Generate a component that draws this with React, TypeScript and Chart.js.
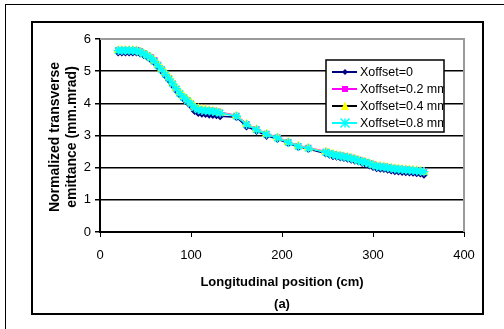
import React, { useEffect, useRef } from "react";
import { Chart, registerables } from "chart.js";

Chart.register(...registerables);

const xPositions = [20, 24, 28, 32, 36, 40, 44, 48, 52, 56, 60, 64, 68, 72, 76, 80, 84, 88, 92, 96, 100, 104, 108, 112, 116, 120, 124, 128, 132,
  150, 161, 172, 183, 195, 207, 218, 229,
  248, 252, 256, 260, 264, 268, 272, 276, 280, 284, 288, 292, 296, 300, 304, 308, 312, 316, 320, 324, 328, 332, 336, 340, 344, 348, 352, 356];

const xoffset0 = [5.58, 5.58, 5.58, 5.58, 5.58, 5.58, 5.55, 5.5, 5.44, 5.36, 5.26, 5.13, 5.0, 4.86, 4.72, 4.56, 4.4, 4.26, 4.14, 4.03, 3.92, 3.76, 3.7, 3.68, 3.67, 3.65, 3.64, 3.63, 3.6,
  3.57, 3.28, 3.14, 2.99, 2.89, 2.76, 2.64, 2.58,
  2.44, 2.4, 2.36, 2.34, 2.32, 2.3, 2.28, 2.25, 2.22, 2.19, 2.15, 2.11, 2.07, 2.02, 1.98, 1.97, 1.96, 1.94, 1.91, 1.89, 1.88, 1.87, 1.86, 1.85, 1.84, 1.83, 1.82, 1.78];

const xoffset02 = [5.66, 5.66, 5.66, 5.66, 5.66, 5.66, 5.62, 5.56, 5.5, 5.44, 5.34, 5.2, 5.06, 4.92, 4.78, 4.62, 4.46, 4.32, 4.2, 4.1, 4.0, 3.88, 3.82, 3.8, 3.79, 3.78, 3.77, 3.75, 3.72,
  3.62, 3.36, 3.2, 3.06, 2.94, 2.8, 2.68, 2.62,
  2.5, 2.46, 2.43, 2.4, 2.38, 2.36, 2.34, 2.31, 2.28, 2.25, 2.22, 2.18, 2.14, 2.1, 2.06, 2.05, 2.04, 2.02, 2.0, 1.98, 1.97, 1.96, 1.95, 1.94, 1.93, 1.92, 1.91, 1.89];

const xoffset04 = [5.65, 5.65, 5.65, 5.65, 5.65, 5.64, 5.6, 5.55, 5.5, 5.42, 5.32, 5.2, 5.07, 4.94, 4.8, 4.64, 4.48, 4.34, 4.22, 4.12, 4.02, 3.9, 3.84, 3.81, 3.8, 3.78, 3.76, 3.74, 3.71,
  3.61, 3.35, 3.19, 3.05, 2.93, 2.79, 2.67, 2.61,
  2.49, 2.45, 2.42, 2.39, 2.37, 2.35, 2.33, 2.3, 2.27, 2.23, 2.2, 2.17, 2.13, 2.09, 2.05, 2.04, 2.03, 2.01, 1.99, 1.97, 1.96, 1.95, 1.94, 1.93, 1.92, 1.91, 1.9, 1.86];

const xoffset08 = [5.64, 5.64, 5.64, 5.64, 5.64, 5.63, 5.6, 5.54, 5.48, 5.4, 5.3, 5.17, 5.04, 4.9, 4.76, 4.6, 4.45, 4.3, 4.18, 4.08, 3.98, 3.86, 3.8, 3.78, 3.77, 3.76, 3.75, 3.73, 3.7,
  3.6, 3.34, 3.18, 3.04, 2.92, 2.78, 2.66, 2.6,
  2.48, 2.44, 2.41, 2.38, 2.36, 2.34, 2.32, 2.29, 2.26, 2.22, 2.19, 2.16, 2.12, 2.08, 2.04, 2.03, 2.02, 2.0, 1.98, 1.96, 1.95, 1.94, 1.93, 1.92, 1.91, 1.9, 1.89, 1.87];

const seriesLabels = ["Xoffset=0", "Xoffset=0.2 mm", "Xoffset=0.4 mm", "Xoffset=0.8 mm"];
const xTickValues = [0, 100, 200, 300, 400];
const yTickValues = [0, 1, 2, 3, 4, 5, 6];
const yTitleLines = ["Normalized transverse", "emittance (mm.mrad)"];
const xTitleLines = ["Longitudinal position (cm)", "(a)"];

const FONT = "'Liberation Sans', Arial, sans-serif";

export default function App() {
  const ref = useRef<HTMLCanvasElement>(null);

  useEffect(() => {
    const canvas = ref.current;
    if (!canvas) return;
    const toPts = (ys: number[]) => xPositions.map((x, i) => ({ x, y: ys[i] }));

    const styles = [
      { line: "#000080", fill: "#000080", pt: "rectRot", r: 3, order: 3 },
      { line: "#FF00FF", fill: "#FF00FF", pt: "rect", r: 3, order: 2 },
      { line: "#FFFF00", fill: "#FFFF00", pt: "triangle", r: 4, order: 1 },
      { line: "#00FFFF", fill: "#00FFFF", pt: "star", r: 4.5, order: 0 },
    ];
    const allSeries = [xoffset0, xoffset02, xoffset04, xoffset08];

    function drawMarker(ctx: CanvasRenderingContext2D, pt: string, x: number, y: number, r: number, color: string) {
      ctx.save();
      ctx.fillStyle = color;
      ctx.strokeStyle = color;
      ctx.lineWidth = 1.5;
      ctx.beginPath();
      if (pt === "rectRot") {
        ctx.moveTo(x, y - r);
        ctx.lineTo(x + r, y);
        ctx.lineTo(x, y + r);
        ctx.lineTo(x - r, y);
        ctx.closePath();
        ctx.fill();
      } else if (pt === "rect") {
        ctx.fillRect(x - r, y - r, 2 * r, 2 * r);
      } else if (pt === "triangle") {
        ctx.moveTo(x, y - r * 1.2);
        ctx.lineTo(x + r, y + r);
        ctx.lineTo(x - r, y + r);
        ctx.closePath();
        ctx.fill();
      } else {
        ctx.moveTo(x - r, y - r); ctx.lineTo(x + r, y + r);
        ctx.moveTo(x - r, y + r); ctx.lineTo(x + r, y - r);
        ctx.moveTo(x, y - r); ctx.lineTo(x, y + r);
        ctx.stroke();
      }
      ctx.restore();
    }

    const decorPlugin = {
      id: "decor",
      beforeDraw(chart: any) {
        const ctx = chart.ctx;
        ctx.save();
        ctx.fillStyle = "#fff";
        ctx.fillRect(0, 0, chart.width, chart.height);
        ctx.strokeStyle = "#000";
        ctx.lineWidth = 1;
        ctx.strokeRect(5.5, 4.5, 600, 400);
        ctx.lineWidth = 2;
        ctx.strokeRect(32, 22, 451, 292);
        ctx.restore();
      },
      afterDraw(chart: any) {
        const ctx = chart.ctx;
        const a = chart.chartArea;
        ctx.save();
        ctx.strokeStyle = "#9a9a9a";
        ctx.lineWidth = 2;
        ctx.beginPath();
        ctx.moveTo(a.left, a.top);
        ctx.lineTo(a.right, a.top);
        ctx.lineTo(a.right, a.bottom);
        ctx.stroke();

        ctx.fillStyle = "#000";
        ctx.textAlign = "center";
        ctx.textBaseline = "middle";
        ctx.save();
        ctx.translate(55, 137);
        ctx.rotate(-Math.PI / 2);
        ctx.font = `bold 14px ${FONT}`;
        ctx.fillText(yTitleLines[0], 0, 0);
        ctx.fillText(yTitleLines[1], 0, 17);
        ctx.restore();
        const cx = (a.left + a.right) / 2;
        ctx.font = `bold 13px ${FONT}`;
        ctx.fillText(xTitleLines[0], cx, 282);
        ctx.fillText(xTitleLines[1], cx, 304);

        const lx = 326, ly = 60, lw = 118, lh = 72;
        ctx.fillStyle = "#fff";
        ctx.fillRect(lx, ly, lw, lh);
        ctx.strokeStyle = "#000";
        ctx.lineWidth = 1.5;
        ctx.strokeRect(lx, ly, lw, lh);
        ctx.save();
        ctx.beginPath();
        ctx.rect(lx, ly, lw, lh);
        ctx.clip();
        const rowY = [72, 89, 106, 123];
        seriesLabels.forEach((lab, i) => {
          const y = rowY[i];
          const s = styles[i];
          ctx.strokeStyle = i === 2 ? "#000" : s.line;
          ctx.lineWidth = 2;
          ctx.beginPath();
          ctx.moveTo(332, y);
          ctx.lineTo(357, y);
          ctx.stroke();
          drawMarker(ctx, s.pt, 345, y, s.r, s.fill);
          ctx.fillStyle = "#000";
          ctx.font = `12.5px ${FONT}`;
          ctx.textAlign = "left";
          ctx.textBaseline = "middle";
          ctx.fillText(lab, 360, y + 1);
        });
        ctx.restore();
        ctx.restore();
      },
    };

    const chart = new Chart(canvas, {
      type: "line",
      data: {
        datasets: allSeries.map((ys, i) => ({
          label: seriesLabels[i],
          data: toPts(ys),
          borderColor: styles[i].line,
          backgroundColor: styles[i].fill,
          pointBackgroundColor: styles[i].fill,
          pointBorderColor: styles[i].fill,
          pointStyle: styles[i].pt as any,
          pointRadius: styles[i].r,
          pointBorderWidth: 1.5,
          borderWidth: 1.5,
          tension: 0,
          order: styles[i].order,
        })),
      },
      options: {
        responsive: false,
        animation: false,
        layout: { padding: { left: 0, top: 39, right: 40, bottom: 0 } },
        plugins: { legend: { display: false }, tooltip: { enabled: false } },
        scales: {
          x: {
            type: "linear",
            min: 0,
            max: 400,
            afterFit: (s: any) => { s.height = 329 - 232; },
            afterBuildTicks: (s: any) => { s.ticks = xTickValues.map((v) => ({ value: v })); },
            ticks: { color: "#000", font: { family: FONT, size: 13 }, padding: 11, maxRotation: 0 },
            grid: { drawOnChartArea: false, drawTicks: true, tickLength: 5, color: "#000", lineWidth: 1 },
            border: { display: true, color: "#000", width: 2 },
          },
          y: {
            min: 0,
            max: 6,
            afterFit: (s: any) => { s.width = 100; },
            afterBuildTicks: (s: any) => { s.ticks = yTickValues.map((v) => ({ value: v })); },
            ticks: { color: "#000", font: { family: FONT, size: 13 }, padding: 4 },
            grid: { drawOnChartArea: true, drawTicks: true, tickLength: 5, color: "#000", lineWidth: 1.5 },
            border: { display: true, color: "#000", width: 2 },
          },
        },
      },
      plugins: [decorPlugin],
    });
    return () => chart.destroy();
  }, []);

  return (
    <div style={{ position: "absolute", left: 0, top: 0, width: 504, height: 329 }}>
      <canvas ref={ref} width={504} height={329} style={{ display: "block" }} />
    </div>
  );
}
